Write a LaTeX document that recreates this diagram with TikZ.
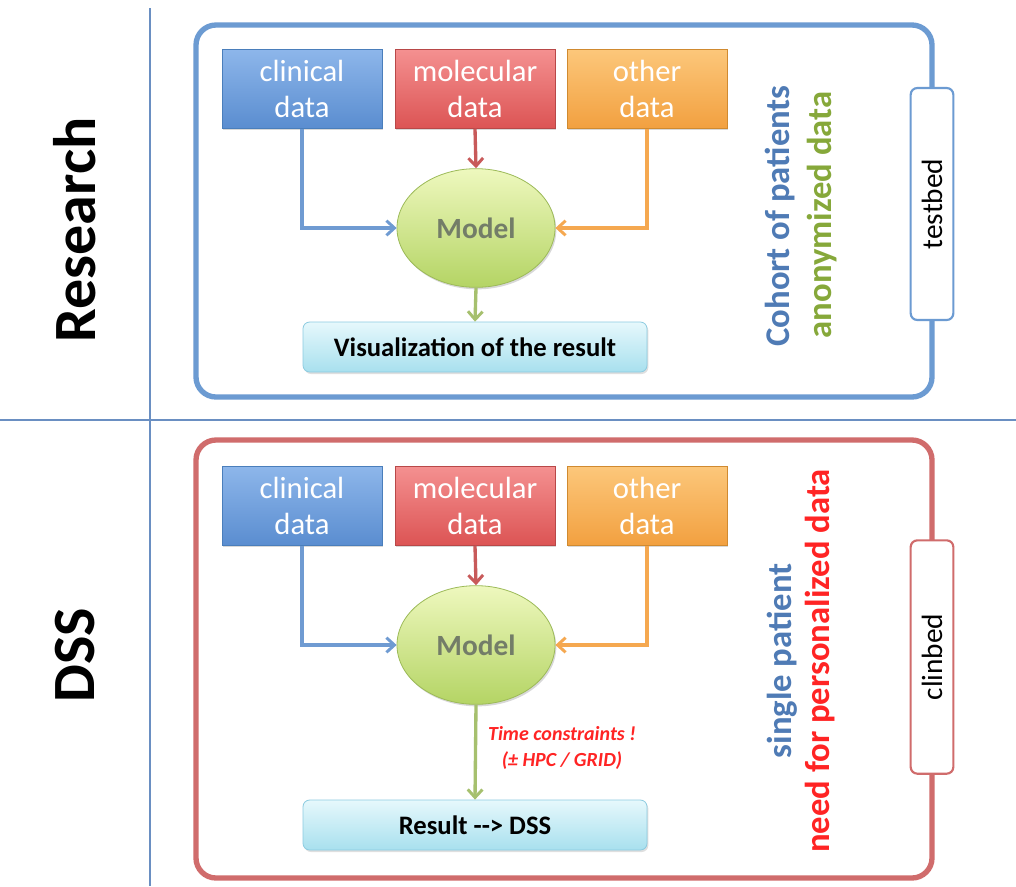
\documentclass[tikz,border=0pt]{standalone}
\usepackage{fontspec}
\setmainfont{Carlito}
\usetikzlibrary{shapes.geometric,shadows,arrows.meta}

\definecolor{panelblue}{HTML}{6C9BD2}
\definecolor{panelred}{HTML}{D06C6C}
\definecolor{sepline}{HTML}{6A8FC2}
\definecolor{arrblue}{HTML}{6F9BD2}
\definecolor{arrred}{HTML}{C85A5A}
\definecolor{arrorange}{HTML}{F5A850}
\definecolor{arrgreen}{HTML}{A6C06E}
\definecolor{txtblue}{HTML}{4F7BB5}
\definecolor{txtgreen}{HTML}{86A83A}
\definecolor{txtred}{HTML}{FF2424}
\definecolor{modeltxt}{HTML}{737D68}
\definecolor{clinedge}{HTML}{4A7EBB}
\definecolor{clintop}{HTML}{8DB6EA}
\definecolor{clinbot}{HTML}{5A8DD0}
\definecolor{moledge}{HTML}{B84848}
\definecolor{moltop}{HTML}{F49090}
\definecolor{molbot}{HTML}{DC5454}
\definecolor{othedge}{HTML}{D08A30}
\definecolor{othtop}{HTML}{FCC77A}
\definecolor{othbot}{HTML}{F2A040}
\definecolor{modedge}{HTML}{9CBA58}
\definecolor{modtop}{HTML}{EEF8BE}
\definecolor{modbot}{HTML}{B4D464}
\definecolor{resedge}{HTML}{8CCBE0}
\definecolor{restop}{HTML}{E6F8FC}
\definecolor{resbot}{HTML}{A8E0EE}

\begin{document}
\begin{tikzpicture}[x=0.75pt,y=-0.75pt,
  panel/.style={draw, line width=4pt, rounded corners=15pt, minimum width=552pt},
  databox/.style={rectangle, minimum width=120pt, minimum height=59pt, align=center,
    text=white, font=\fontsize{23}{27}\selectfont, line width=0.6pt,
    drop shadow={shadow xshift=1pt, shadow yshift=-1.5pt, opacity=0.3}},
  clinbox/.style={databox, draw=clinedge, top color=clintop, bottom color=clinbot},
  molbox/.style={databox, draw=moledge, top color=moltop, bottom color=molbot},
  othbox/.style={databox, draw=othedge, top color=othtop, bottom color=othbot},
  modelnode/.style={ellipse, minimum width=118.5pt, minimum height=89pt, draw=modedge,
    line width=0.6pt, top color=modtop, bottom color=modbot, text=modeltxt,
    font=\bfseries\fontsize{22}{26}\selectfont,
    drop shadow={shadow xshift=1pt, shadow yshift=-1.5pt, opacity=0.3}},
  resbox/.style={rectangle, rounded corners=5pt, minimum width=258pt, minimum height=37.5pt,
    draw=resedge, line width=0.6pt, top color=restop, bottom color=resbot,
    font=\bfseries\fontsize{20}{24}\selectfont,
    drop shadow={shadow xshift=1pt, shadow yshift=-1.5pt, opacity=0.25}},
  tab/.style={rectangle, rounded corners=5pt, fill=white, line width=1.6pt,
    rotate=90, font=\fontsize{22}{26}\selectfont},
  sidetxt/.style={rotate=90, font=\bfseries\fontsize{26}{30}\selectfont},
  bigtxt/.style={rotate=90, font=\bfseries\fontsize{45}{50}\selectfont},
  arr/.style={line width=2.5pt, -{Straight Barb[length=6pt,width=11pt,line width=2.2pt]}}
]
\useasboundingbox (0,0) rectangle (1016,886);
\fill[white] (0,0) rectangle (1016,886);

% separators between the two rows
\draw[sepline, line width=1.6pt] (150,8) -- (150,886);
\draw[sepline, line width=1.6pt] (0,420) -- (1016,420);

% row titles
\node[bigtxt] (research) at (75,230) {Research};
\node[bigtxt] (dss) at (75,655) {DSS};

% ---------- research row ----------
\node[panel, draw=panelblue, minimum height=279pt] (panelA) at (564,211) {};
\node[tab, draw=panelblue, minimum width=174pt, minimum height=32pt] (testbed) at (932,204) {testbed};

\node[clinbox] (clinA) at (302,89) {clinical\\data};
\node[molbox]  (molA)  at (475,89) {molecular\\data};
\node[othbox]  (othA)  at (647,89) {other\\data};
\node[modelnode] (modelA) at (476,228) {Model};
\node[resbox] (resA) at (475,347) {Visualization of the result};

\draw[arr, arrblue]   (clinA.south) |- (modelA.west);
\draw[arr, arrred]    (molA.south) -- (modelA.north);
\draw[arr, arrorange] (othA.south) |- (modelA.east);
\draw[arr, arrgreen]  (modelA.south) -- (resA.north);

\node[sidetxt, text=txtblue]  (cohort) at (780,216) {Cohort of patients};
\node[sidetxt, text=txtgreen] (anon)   at (822,215) {anonymized data};

% ---------- DSS row ----------
\node[panel, draw=panelred, minimum height=328.5pt] (panelB) at (564,659) {};
\node[tab, draw=panelred, minimum width=175pt, minimum height=32pt] (clinbed) at (932,657) {clinbed};

\node[clinbox] (clinB) at (302,506) {clinical\\data};
\node[molbox]  (molB)  at (475,506) {molecular\\data};
\node[othbox]  (othB)  at (647,506) {other\\data};
\node[modelnode] (modelB) at (476,645) {Model};
\node[resbox] (resB) at (475,825) {Result {-}{-}> DSS};

\draw[arr, arrblue]   (clinB.south) |- (modelB.west);
\draw[arr, arrred]    (molB.south) -- (modelB.north);
\draw[arr, arrorange] (othB.south) |- (modelB.east);
\draw[arr, arrgreen]  (modelB.south) -- (resB.north);

\node[text=txtred, align=center, font=\bfseries\itshape\fontsize{15}{19}\selectfont]
  (timenote) at (562,748) {Time constraints !\\(± HPC / GRID)};

\node[sidetxt, text=txtblue] (single) at (782,661) {single patient};
\node[sidetxt, text=txtred]  (need)   at (820,661) {need for personalized data};
\end{tikzpicture}
\end{document}
